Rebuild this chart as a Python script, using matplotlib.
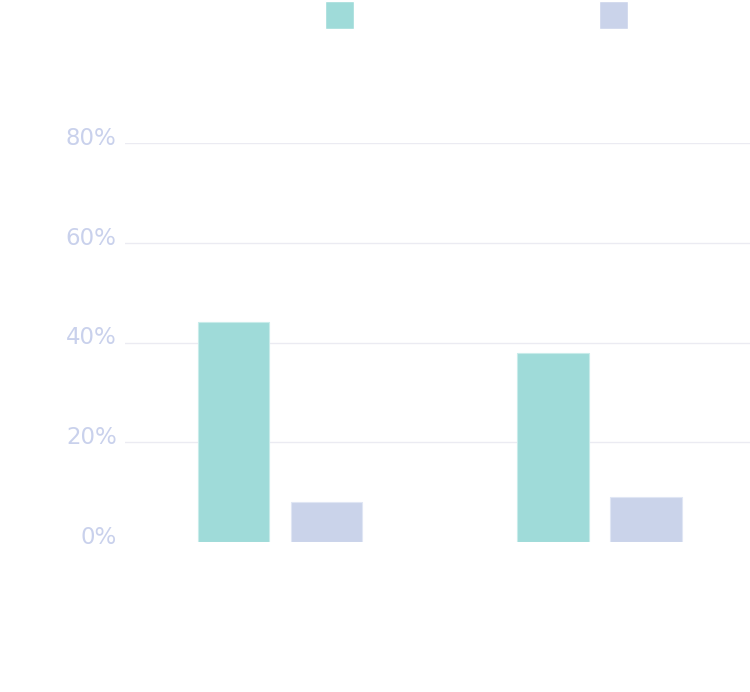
import matplotlib
matplotlib.use("Agg")
import matplotlib.pyplot as plt
import numpy as np
from matplotlib.patches import Patch
from matplotlib.ticker import FuncFormatter
import matplotlib.transforms as mtransforms

categories = ["A", "B"]
series_names = ["Series 1", "Series 2"]
series1 = [44.1, 37.9]
series2 = [8.0, 9.0]
yticks = [0, 20, 40, 60, 80]

teal = "#9fdbd9"
lav = "#cad3ea"
tick_color = "#c9d1ec"
grid_color = "#ebebf2"

fig = plt.figure(figsize=(7.5, 6.92), dpi=100)
ax = fig.add_axes([125/750, 150/692, 625/750, 399/692])

x = np.arange(len(categories))
off = 0.1455
w = 0.224
ax.bar(x - off, series1, width=w, color=teal, edgecolor="#c8ecea", linewidth=0.8, zorder=3)
ax.bar(x + off, series2, width=w, color=lav, edgecolor="#e0e6f4", linewidth=0.8, zorder=3)

ax.set_xlim(-0.485, 1.471)
ax.set_ylim(0, 80)
ax.set_yticks(yticks)
ax.yaxis.set_major_formatter(FuncFormatter(lambda v, p: f"{int(v)}%"))
ax.tick_params(axis="y", length=0, pad=6, labelsize=16.5, labelcolor=tick_color)
offset = mtransforms.ScaledTranslation(0, 7/100, fig.dpi_scale_trans)
for lbl in ax.get_yticklabels():
    lbl.set_transform(lbl.get_transform() + offset)
    lbl.set_fontweight("medium")
ax.set_xticks(x)
ax.set_xticklabels(categories, color="white")
ax.tick_params(axis="x", length=0)
for s in ax.spines.values():
    s.set_visible(False)
ax.grid(axis="y", color=grid_color, linewidth=1, zorder=0)
ax.set_axisbelow(True)
gl = ax.get_ygridlines()
if gl:
    gl[0].set_visible(False)

# legends
h1 = Patch(facecolor=teal, edgecolor="white")
h2 = Patch(facecolor=lav, edgecolor="white")
leg1 = fig.legend([h1], [series_names[0]], loc="upper left",
                  bbox_to_anchor=(325/750, 1 - 1/692), frameon=False,
                  handlelength=1.5, handleheight=1.85, fontsize=14,
                  borderpad=0, borderaxespad=0, handletextpad=0.5, labelcolor="white")
fig.add_artist(leg1)
leg2 = fig.legend([h2], [series_names[1]], loc="upper left",
                  bbox_to_anchor=(599/750, 1 - 1/692), frameon=False,
                  handlelength=1.5, handleheight=1.85, fontsize=14,
                  borderpad=0, borderaxespad=0, handletextpad=0.5, labelcolor="white")

fig.savefig("out.png", dpi=100, facecolor="white")
